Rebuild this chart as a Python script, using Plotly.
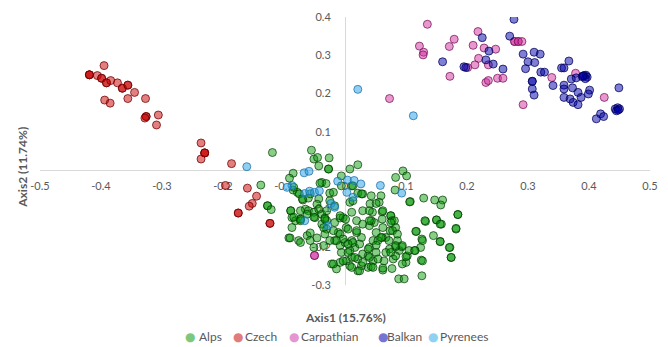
import plotly.graph_objects as go

# ---------------- data (Axis1, Axis2) ----------------
alps = [
    (-0.119, 0.046), (-0.138, -0.039), (-0.127, -0.093), (-0.127, -0.093), (-0.121, -0.103),
    (-0.055, 0.052), (-0.051, 0.029), (-0.045, 0.033), (-0.043, 0.011), (-0.026, 0.032),
    (-0.027, 0.003), (-0.027, 0.003), (0.008, 0.003), (0.021, 0.014), (-0.006, -0.015),
    (0.083, -0.019), (0.095, -0.002), (0.101, -0.015),
    (-0.085, -0.008), (-0.091, -0.021), (-0.038, -0.032), (-0.031, -0.035), (-0.085, -0.052),
    (-0.078, -0.058), (-0.075, -0.062), (-0.069, -0.078), (-0.060, -0.073), (-0.043, -0.075),
    (-0.006, -0.041), (0.011, -0.041), (0.021, -0.060), (0.029, -0.062), (0.008, -0.084),
    (-0.089, -0.106), (-0.089, -0.106), (-0.087, -0.124), (-0.081, -0.132), (-0.073, -0.128),
    (-0.073, -0.128), (-0.065, -0.102), (-0.060, -0.106), (-0.051, -0.110), (-0.049, -0.124),
    (-0.038, -0.115), (-0.033, -0.125), (-0.030, -0.132), (-0.038, -0.141), (-0.030, -0.154),
    (-0.033, -0.167), (-0.017, -0.137), (-0.008, -0.125), (-0.003, -0.124), (0.002, -0.150),
    (-0.011, -0.163), (-0.092, -0.177), (-0.076, -0.184), (-0.062, -0.171), (-0.057, -0.184),
    (-0.051, -0.202), (-0.017, -0.184), (-0.008, -0.197), (0.000, -0.189), (0.011, -0.184),
    (0.016, -0.202), (0.027, -0.176), (0.019, -0.163), (-0.006, -0.215), (0.008, -0.210),
    (0.011, -0.228), (0.002, -0.237), (0.021, -0.232), (0.029, -0.219), (0.027, -0.250),
    (0.008, -0.250), (-0.008, -0.241), (-0.022, -0.245), (-0.014, -0.258), (0.021, -0.263),
    (0.038, -0.254),
    (0.082, -0.052), (0.059, -0.067), (0.045, -0.110), (0.061, -0.109), (0.075, -0.119),
    (0.075, -0.119), (0.107, -0.082), (0.129, -0.073), (0.147, -0.078), (0.160, -0.078),
    (0.157, -0.091), (0.132, -0.134), (0.150, -0.130), (0.150, -0.130), (0.158, -0.141),
    (0.185, -0.116), (0.185, -0.116), (0.182, -0.154), (0.117, -0.160), (0.145, -0.171),
    (0.156, -0.186), (0.172, -0.202), (0.174, -0.228), (0.126, -0.180), (0.124, -0.202),
    (0.115, -0.210), (0.125, -0.235), (0.126, -0.276), (0.088, -0.284), (0.097, -0.284),
    (0.100, -0.241), (0.102, -0.224), (0.089, -0.210), (0.093, -0.200), (0.083, -0.200),
    (0.073, -0.206), (0.067, -0.176), (0.074, -0.158), (0.083, -0.150), (0.062, -0.150),
    (0.061, -0.128), (0.048, -0.137), (0.040, -0.145), (0.051, -0.163), (0.061, -0.176),
    (0.046, -0.184), (0.054, -0.184), (0.040, -0.202), (0.051, -0.215), (0.038, -0.224),
    (0.046, -0.237), (0.043, -0.252), (0.064, -0.237), (0.067, -0.215), (0.079, -0.232),
    (0.077, -0.257), (0.062, -0.261), (0.086, -0.184), (0.094, -0.245), (0.077, -0.132),
    (0.043, -0.132), (0.056, -0.084), (0.041, -0.088),
    (-0.084, -0.045), (-0.070, -0.075), (-0.057, -0.062), (-0.041, -0.034), (-0.025, -0.060),
    (-0.019, -0.058), (0.013, -0.041), (0.027, -0.062), (0.013, -0.080), (0.051, -0.087),
    (0.062, -0.106), (0.081, -0.132), (0.106, -0.083), (-0.017, -0.093), (-0.030, -0.106),
    (-0.046, -0.089), (-0.025, -0.080), (-0.073, -0.106), (0.029, -0.106), (0.040, -0.106),
    (0.043, -0.067), (0.001, -0.128), (0.011, -0.110), (0.019, -0.132), (0.029, -0.141),
    (0.040, -0.132), (0.019, -0.158), (0.005, -0.154), (-0.008, -0.167),
    (-0.003, -0.180), (0.013, -0.189), (0.024, -0.193), (0.005, -0.193),
    (-0.014, -0.184), (-0.025, -0.184), (-0.035, -0.197), (-0.046, -0.177),
    (-0.057, -0.164), (-0.073, -0.189), (-0.090, -0.177), (-0.087, -0.150), (-0.084, -0.123),
    (-0.073, -0.132), (-0.062, -0.115), (-0.051, -0.123), (-0.043, -0.102), (-0.033, -0.128),
    (-0.035, -0.150), (-0.019, -0.158), (-0.008, -0.119), (0.005, -0.215), (0.016, -0.228),
    (-0.003, -0.237), (-0.019, -0.245), (0.011, -0.254), (0.024, -0.263), (0.029, -0.241),
    (0.040, -0.228), (0.038, -0.206), (0.051, -0.196), (0.059, -0.176),
    (0.046, -0.254), (0.062, -0.256), (0.054, -0.232), (0.072, -0.184), (0.083, -0.197),
    (0.094, -0.197), (0.083, -0.224), (0.100, -0.226), (0.075, -0.215), (0.105, -0.210),
    (0.078, -0.158), (0.086, -0.167), (0.075, -0.137), (0.116, -0.160), (0.127, -0.184),
    (0.114, -0.210), (0.127, -0.237), (0.131, -0.132), (0.156, -0.141), (0.156, -0.187),
    (0.171, -0.202), (0.174, -0.228), (0.182, -0.152),
]

czech = [
    (-0.395, 0.273), (-0.419, 0.249), (-0.419, 0.249), (-0.419, 0.249), (-0.406, 0.247),
    (-0.399, 0.240), (-0.399, 0.240), (-0.391, 0.228), (-0.391, 0.228), (-0.384, 0.234),
    (-0.373, 0.228), (-0.365, 0.214), (-0.365, 0.214), (-0.356, 0.222), (-0.356, 0.222),
    (-0.345, 0.203), (-0.394, 0.183), (-0.385, 0.175), (-0.356, 0.187), (-0.327, 0.187),
    (-0.326, 0.140), (-0.326, 0.140), (-0.328, 0.136), (-0.306, 0.144), (-0.309, 0.118),
    (-0.236, 0.071), (-0.230, 0.045), (-0.230, 0.045), (-0.230, 0.045), (-0.236, 0.029),
    (-0.186, 0.017), (-0.196, -0.040), (-0.160, -0.047), (-0.145, -0.068), (-0.152, -0.087),
    (-0.157, -0.094), (-0.175, -0.112), (-0.175, -0.112), (-0.123, -0.139), (-0.123, -0.139),
]

carpathian = [
    (0.135, 0.381), (0.122, 0.324), (0.129, 0.308), (0.128, 0.301), (0.073, 0.187),
    (0.179, 0.342), (0.171, 0.323), (0.172, 0.245), (0.210, 0.326), (0.218, 0.362),
    (0.228, 0.319), (0.219, 0.292), (0.213, 0.275), (0.201, 0.268), (0.235, 0.275),
    (0.247, 0.316), (0.231, 0.229), (0.235, 0.234), (0.250, 0.240), (0.259, 0.240),
    (0.278, 0.336), (0.278, 0.336), (0.284, 0.336), (0.284, 0.336), (0.290, 0.336),
    (0.292, 0.171), (0.339, 0.242), (0.378, 0.253), (0.425, 0.190), (-0.050, -0.223),
    (-0.050, -0.223),
]

balkan = [
    (0.277, 0.394), (0.270, 0.350), (0.225, 0.346), (0.236, 0.311), (0.231, 0.288),
    (0.243, 0.277), (0.259, 0.264), (0.160, 0.283), (0.195, 0.270), (0.198, 0.268),
    (0.292, 0.303), (0.300, 0.283), (0.296, 0.265), (0.311, 0.281), (0.310, 0.308),
    (0.320, 0.303), (0.307, 0.232), (0.307, 0.232), (0.307, 0.212), (0.310, 0.196),
    (0.321, 0.256), (0.327, 0.256), (0.341, 0.221), (0.355, 0.267), (0.359, 0.267),
    (0.367, 0.285), (0.359, 0.222), (0.359, 0.212), (0.359, 0.190), (0.369, 0.186),
    (0.374, 0.177), (0.382, 0.171), (0.371, 0.238), (0.373, 0.215), (0.382, 0.203),
    (0.387, 0.190), (0.379, 0.241), (0.389, 0.244), (0.392, 0.247), (0.395, 0.248),
    (0.397, 0.243), (0.394, 0.239), (0.390, 0.246), (0.401, 0.209), (0.399, 0.199),
    (0.449, 0.215), (0.412, 0.134), (0.419, 0.147), (0.424, 0.140), (0.443, 0.160),
    (0.447, 0.163), (0.450, 0.160), (0.445, 0.155), (0.448, 0.157),
]

pyrenees = [
    (-0.161, 0.009), (0.021, 0.211), (0.112, 0.142), (-0.067, -0.007), (-0.059, -0.003),
    (-0.087, -0.040), (-0.095, -0.045), (-0.066, -0.061), (-0.058, -0.055), (-0.050, -0.058),
    (-0.042, -0.054), (-0.012, -0.029), (0.004, -0.026), (0.015, -0.027), (0.026, -0.036),
    (0.003, -0.058), (0.013, -0.071), (-0.023, -0.087), (-0.017, -0.097), (-0.066, -0.132),
    (-0.028, -0.145), (0.058, -0.040), (0.093, -0.060),
]

groups = ["Alps", "Czech", "Carpathian", "Balkan", "Pyrenees"]
series = [alps, czech, carpathian, balkan, pyrenees]

x_ticks = [-0.5, -0.4, -0.3, -0.2, -0.1, 0, 0.1, 0.2, 0.3, 0.4, 0.5]
x_tick_labels = ["-0.5", "-0.4", "-0.3", "-0.2", "-0.1", "0", "0.1", "0.2", "0.3", "0.4", "0.5"]
y_ticks = [0.4, 0.3, 0.2, 0.1, -0.1, -0.2, -0.3]
y_tick_labels = ["0.4", "0.3", "0.2", "0.1", "-0.1", "-0.2", "-0.3"]

# ---------------- style ----------------
fills = {
    "Alps": "rgba(0,150,0,0.47)",
    "Czech": "rgba(200,0,0,0.5)",
    "Carpathian": "rgba(210,50,160,0.5)",
    "Balkan": "rgba(0,0,170,0.5)",
    "Pyrenees": "rgba(30,160,230,0.5)",
}
edges = {
    "Alps": "rgba(0,55,0,0.7)",
    "Czech": "rgba(110,0,0,0.75)",
    "Carpathian": "rgba(120,20,90,0.75)",
    "Balkan": "rgba(0,0,90,0.75)",
    "Pyrenees": "rgba(30,110,170,0.75)",
}
legend_swatch = {
    "Alps": "#7cc87c",
    "Czech": "#e07c7c",
    "Carpathian": "#e496d0",
    "Balkan": "#7474d2",
    "Pyrenees": "#8fd0f3",
}
# legend entry positions (paper x of swatch centre, paper x of label start)
legend_swatch_x = [0.246, 0.324, 0.416, 0.562, 0.644]
legend_text_x = [0.257, 0.333, 0.424, 0.565, 0.652]

fig = go.Figure()
for name, pts in zip(groups, series):
    xs = [p[0] for p in pts]
    ys = [p[1] for p in pts]
    fig.add_trace(go.Scatter(
        x=xs, y=ys, mode="markers", name=name, showlegend=False,
        marker=dict(size=8, color=fills[name], line=dict(color=edges[name], width=1)),
    ))

grey = "#595959"
annotations = [
    dict(text="<b>Axis1 (15.76%)</b>", x=0.5, y=-0.1227, xref="paper", yref="paper",
         showarrow=False, xanchor="center", yanchor="middle",
         font=dict(size=12, color=grey)),
    dict(text="<b>Axis2 (11.74%)</b>", x=-0.029, y=0.4387, xref="paper", yref="paper",
         showarrow=False, xanchor="center", yanchor="middle", textangle=-90,
         font=dict(size=12, color=grey)),
]
for name, sx, tx in zip(groups, legend_swatch_x, legend_text_x):
    annotations.append(dict(text="●", x=sx, y=-0.193, xref="paper", yref="paper",
                            showarrow=False, xanchor="center", yanchor="middle",
                            font=dict(size=12, color=legend_swatch[name],
                                      family="DejaVu Sans")))
    annotations.append(dict(text=name, x=tx, y=-0.193, xref="paper", yref="paper",
                            showarrow=False, xanchor="left", yanchor="middle",
                            font=dict(size=12, color=grey)))

fig.update_layout(
    width=668, height=347,
    margin=dict(l=40, r=10, t=16, b=62),
    paper_bgcolor="white", plot_bgcolor="white",
    font=dict(family="Lato, Open Sans, sans-serif", size=12, color=grey),
    showlegend=False,
    xaxis=dict(range=[-0.5, 0.5], tickvals=x_ticks, ticktext=x_tick_labels,
               anchor="free", position=0.3 / 0.7, showline=True, linecolor="#d9d9d9",
               linewidth=1, showgrid=False, zeroline=False, ticks="",
               tickfont=dict(size=11, color=grey), layer="below traces",
               ticklabelstandoff=6),
    yaxis=dict(range=[-0.3, 0.4], tickvals=y_ticks, ticktext=y_tick_labels,
               anchor="free", position=0.5, showline=True, linecolor="#d9d9d9",
               linewidth=1, showgrid=False, zeroline=False, ticks="",
               tickfont=dict(size=11, color=grey), layer="below traces",
               ticklabelstandoff=12),
    annotations=annotations,
)

fig.write_html("out.html")
